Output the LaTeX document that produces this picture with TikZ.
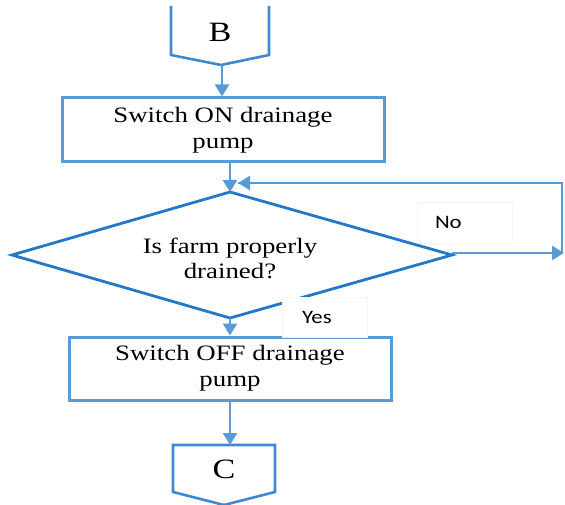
\documentclass[tikz,border=0pt]{standalone}
\usepackage{fontspec}
\setmainfont{Liberation Serif}[FakeStretch=1.22]
\newfontfamily\lblfont{Carlito}[FakeStretch=1.2]
\usetikzlibrary{arrows.meta,calc}
\definecolor{lineblue}{HTML}{5B9BD5}
\definecolor{darkblue}{HTML}{2378C8}
\definecolor{midblue}{HTML}{3F88D2}
\tikzset{
  procbox/.style={draw=lineblue, line width=3pt, align=center,
    font=\fontsize{22}{27}\selectfont, inner sep=0pt},
  dectext/.style={align=center, font=\fontsize{22}{25}\selectfont, inner sep=0pt},
  decline/.style={draw=darkblue, line width=2.8pt, line join=miter},
  flow/.style={draw=lineblue, line width=2.5pt, -{Triangle[width=14pt,length=12pt]}},
  link/.style={draw=lineblue, line width=2pt},
  conn/.style={draw=midblue, line width=2.6pt, line join=miter},
  conntext/.style={font=\fontsize{28}{30}\selectfont, inner sep=0pt},
  lbl/.style={fill=white, draw=black!4, line width=0.6pt,
    font=\lblfont\fontsize{19}{22}\selectfont, align=left}
}
\begin{document}
\begin{tikzpicture}[x=1pt,y=-1pt]
\useasboundingbox (0,0) rectangle (565,505);

% connector B (top cut off)
\draw[conn] (171,6) -- (171,55) -- (221,65) -- (269,55) -- (269,6);
\node[conntext] (B) at (220,32) {B};
\coordinate (Bp) at (222,65);

% process 1
\node[procbox, minimum width=322pt, minimum height=64pt] (box1) at (223,130)
  {Switch ON drainage\\[-1pt]pump};

% decision
\coordinate (dtop) at (230,192);
\coordinate (dbot) at (230,318);
\coordinate (dleft) at (12,255);
\coordinate (dright) at (452,255);
\draw[decline] (dtop) -- (dright) -- (dbot) -- (dleft) -- cycle;
\node[dectext] (dec) at (230,258) {Is farm properly\\drained?};

% process 2
\node[procbox, minimum width=322pt, minimum height=63pt] (box2) at (230,368.5)
  {Switch OFF drainage\\[-1pt]pump};

% connector C
\draw[conn] (173,492) -- (173,445) -- (275,445) -- (275,492) -- (224,505) -- cycle;
\node[conntext] (C) at (224,469) {C};
\coordinate (Ctop) at (228,445);

% feedback coordinates
\coordinate (r1) at (564,253);
\coordinate (r2) at (562,183);
\coordinate (fb) at (238,183);

% connectors
\draw[flow] (Bp) -- (Bp |- box1.north);
\draw[flow] (box1.south -| dtop) -- (dtop);
\draw[flow] (dbot) -- (dbot |- box2.north);
\draw[flow] (box2.south) -- (box2.south |- Ctop);
\draw[flow] (dright) ++(0,-2) -- (r1);
\draw[link] (r2 |- r1) -- (r2) -- (fb);
\draw[flow] (r2) -- (fb);

% labels
\node[lbl, minimum height=41pt, text width=59pt, inner xsep=18pt] (no) at (464.5,222.5) {No};
\node[lbl, minimum height=40pt, text width=45pt, inner xsep=20pt] (yes) at (324.5,317) {Yes};
\end{tikzpicture}
\end{document}
